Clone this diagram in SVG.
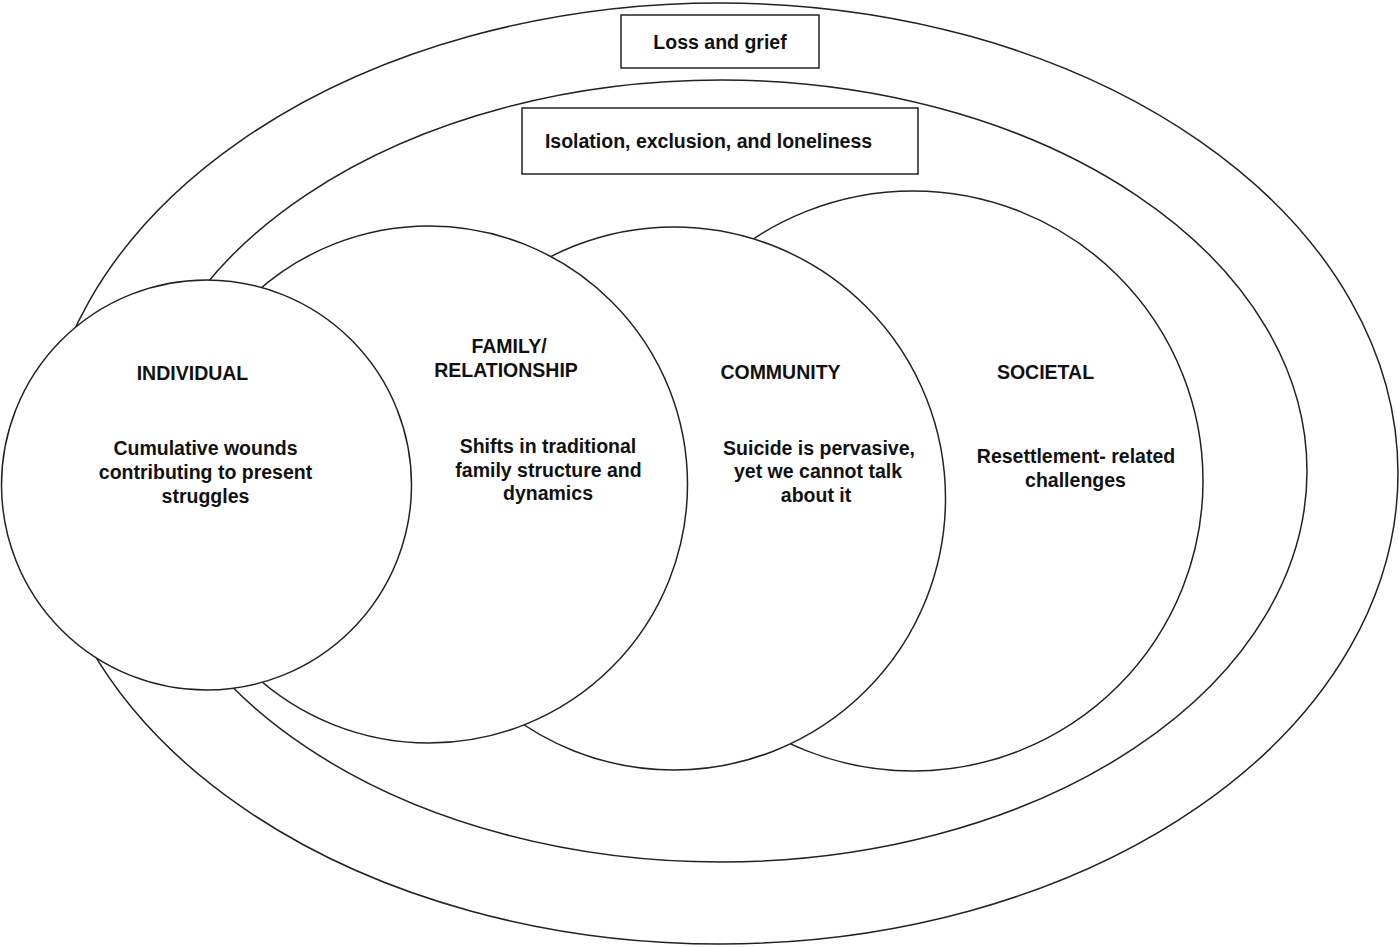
<svg xmlns="http://www.w3.org/2000/svg" width="1400" height="947" viewBox="0 0 1400 947">
<style>
.shape{fill:#fff;stroke:#222;stroke-width:1.5}
.t{font-family:"Liberation Sans",Arial,Helvetica,sans-serif;font-weight:bold;font-size:19.5px;fill:#111;text-anchor:middle}
</style>
<rect width="1400" height="947" fill="#fff"/>
<g id="loss-grief">
<ellipse class="shape" cx="720" cy="473.5" rx="678" ry="470.5"/>
<rect class="shape" x="621" y="15" width="198" height="53"/>
<text class="t" x="720" y="49">Loss and grief</text>
</g>
<g id="isolation">
<ellipse class="shape" cx="721" cy="471" rx="586" ry="391"/>
<rect class="shape" x="522" y="108" width="396" height="66"/>
<text class="t" x="708.5" y="148">Isolation, exclusion, and loneliness</text>
</g>
<g id="societal">
<circle class="shape" cx="913" cy="481" r="290"/>
<text class="t" x="1045.5" y="379">SOCIETAL</text>
<text class="t" x="1076" y="463">Resettlement- related</text>
<text class="t" x="1075.5" y="487">challenges</text>
</g>
<g id="community">
<circle class="shape" cx="674" cy="498.5" r="271.5"/>
<text class="t" x="780.5" y="379">COMMUNITY</text>
<text class="t" x="819" y="455">Suicide is pervasive,</text>
<text class="t" x="818" y="478">yet we cannot talk</text>
<text class="t" x="816" y="502">about it</text>
</g>
<g id="family">
<circle class="shape" cx="429" cy="484.5" r="258.5"/>
<text class="t" x="509" y="353">FAMILY/</text>
<text class="t" x="506" y="377">RELATIONSHIP</text>
<text class="t" x="548" y="453">Shifts in traditional</text>
<text class="t" x="548.5" y="477">family structure and</text>
<text class="t" x="548" y="500">dynamics</text>
</g>
<g id="individual">
<circle class="shape" cx="206.5" cy="485" r="205"/>
<text class="t" x="192.5" y="380">INDIVIDUAL</text>
<text class="t" x="205.5" y="455">Cumulative wounds</text>
<text class="t" x="205.5" y="479">contributing to present</text>
<text class="t" x="205.5" y="503">struggles</text>
</g>
<g id="connectors"></g>
</svg>
